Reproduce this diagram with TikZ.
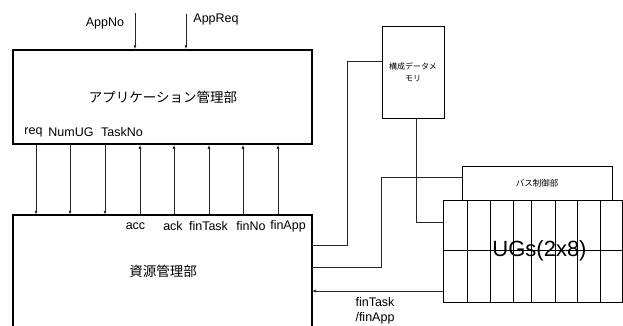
\documentclass[tikz,border=0pt]{standalone}
\usepackage{fontspec}
\setmainfont{Liberation Sans}
\newfontfamily\jp{Noto Sans CJK JP}
\usetikzlibrary{arrows.meta}
\begin{document}
\begin{tikzpicture}[x=1pt,y=-1pt,
  bigbox/.style={draw=black,line width=1.5pt,inner sep=0pt},
  smallbox/.style={draw=black,line width=0.9pt,inner sep=0pt},
  lbl/.style={inner sep=0pt,font=\fontsize{12.5}{15}\selectfont},
  conn/.style={draw=black!85,line width=0.8pt},
  arr/.style={conn,-{Latex[length=4pt,width=3pt]}},
  jpbig/.style={inner sep=0pt,font=\jp\fontsize{13.5}{16}\selectfont}]
\useasboundingbox (0,0) rectangle (623,325);
% boxes
\node[bigbox,minimum width=299pt,minimum height=94pt] (app) at (162.5,97) {};
\node[jpbig] (apptext) at (163,97) {アプリケーション管理部};
\node[inner sep=0pt,minimum width=299pt,minimum height=111pt] (res) at (162.5,270.5) {};
\draw[black,line width=1.5pt] (res.south west) -- (res.north west) -- (res.north east) -- (res.south east);
\node[jpbig] (restext) at (163,271) {資源管理部};
\node[smallbox,minimum width=62pt,minimum height=92pt,align=center,
      font=\jp\fontsize{8}{12}\selectfont] (mem) at (413,72) {構成データメ\\モリ};
\node[smallbox,line width=0.8pt,minimum width=150pt,minimum height=34pt,
      font=\jp\fontsize{8.5}{10}\selectfont] (bus) at (537,183) {バス制御部};
\node[smallbox,line width=0.8pt,minimum width=179pt,minimum height=102pt] (ug) at (532.5,251) {};
\foreach \gx in {467,490,513,531,555,577,600}
  \draw[black,line width=0.7pt] (\gx,200) -- (\gx,302);
\draw[black,line width=0.7pt] (443,250) -- (622,250);
\node[inner sep=0pt,font=\fontsize{22}{24}\selectfont] (ugtext) at (539.5,251) {UGs(2x8)};
% top inputs
\coordinate (inA) at (135,13);
\coordinate (inB) at (186,14);
\draw[arr] (inA) -- (inA |- app.north);
\draw[arr] (inB) -- (inB |- app.north);
\node[lbl] (lAppNo) at (105,23) {AppNo};
\node[lbl] (lAppReq) at (216,19) {AppReq};
% down arrows app -> res
\foreach \cx/\nm in {36/d1,70/d2,105/d3}{
  \coordinate (\nm) at (\cx,0);
  \draw[arr] (app.south -| \nm) -- (res.north -| \nm);
}
% up arrows res -> app
\foreach \cx/\nm in {140/u1,174/u2,209/u3,243/u4,278/u5}{
  \coordinate (\nm) at (\cx,0);
  \draw[arr] (res.north -| \nm) -- (app.south -| \nm);
}
\node[lbl] (lreq) at (33.5,132) {req};
\node[lbl] (lnum) at (71,132) {NumUG};
\node[lbl] (ltask) at (122,132) {TaskNo};
\node[lbl] (lacc) at (135.5,226) {acc};
\node[lbl] (lack) at (173,226) {ack};
\node[lbl] (lfinT) at (208.5,226) {finTask};
\node[lbl] (lfinN) at (251,226) {finNo};
\node[lbl] (lfinA) at (288,226) {finApp};
% right side connections
\coordinate (memL) at (382,61);
\coordinate (resR1) at (312,245);
\draw[conn] (memL) -- (347,61) |- (resR1);
\coordinate (memB) at (416,118);
\coordinate (ugL1) at (443,222);
\draw[conn] (memB) |- (ugL1);
\coordinate (resR2) at (312,267);
\coordinate (busL) at (462,177);
\draw[conn] (resR2) -- (381,267) |- (busL);
\coordinate (ugL2) at (443,291);
\coordinate (resR3) at (312,291);
\draw[arr] (ugL2) -- (resR3);
\node[lbl] (lfb1) at (375,302) {finTask};
\node[lbl] (lfb2) at (375,318) {/finApp};
\end{tikzpicture}
\end{document}
